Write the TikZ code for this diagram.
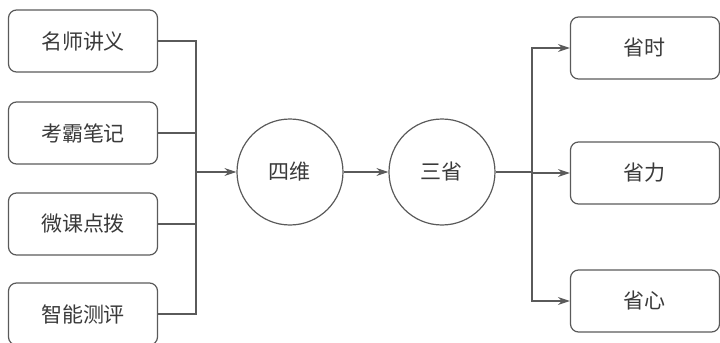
\documentclass[tikz,border=0pt]{standalone}
\usepackage{fontspec}
\setmainfont{Noto Sans CJK SC}
\usetikzlibrary{arrows.meta}
\definecolor{linegray}{HTML}{5A5A5A}
\definecolor{textgray}{HTML}{3A3A3A}
\begin{document}
	\begin{tikzpicture}[
		x=0.5pt, y=-0.5pt,
		every node/.style={font=\fontsize{10.5}{12}\selectfont, text=textgray},
		box/.style={draw=linegray, line width=0.6pt, rounded corners=4pt,
			minimum width=74.5pt, minimum height=31pt},
		hub/.style={draw=linegray, line width=0.6pt, circle, minimum size=53pt},
		link/.style={draw=linegray, line width=0.6pt},
		flow/.style={link, -{Stealth[length=6pt, width=4pt]}}
		]
		
		\useasboundingbox (0,0) rectangle (720,343);
		
		% left column
		\node[box] (jiangyi) at (83,41)  {名师讲义};
		\node[box] (biji)    at (83,133) {考霸笔记};
		\node[box] (weike)   at (83,224) {微课点拨};
		\node[box] (ceping)  at (83,314) {智能测评};
		
		% the two circles
		\node[hub] (siwei)    at (290,172) {四维};
		\node[hub] (sansheng) at (442,172) {三省};
		
		% right column
		\node[box] (shishi) at (645,48)  {省时};
		\node[box] (lili)   at (645,173) {省力};
		\node[box] (xinxin) at (645,301) {省心};
		
		\coordinate (joinL) at (196,172);
		\coordinate (joinR) at (532,172);
		
		\foreach \src in {jiangyi, biji, weike, ceping}
			\draw[link] (\src.east) -| (joinL);
		\draw[flow] (joinL) -- (siwei);
		\draw[flow] (siwei) -- (sansheng);
		\draw[link] (sansheng) -- (joinR);
		\foreach \dst in {shishi, lili, xinxin}
			\draw[flow] (joinR) |- (\dst.west);
		
	\end{tikzpicture}
\end{document}
